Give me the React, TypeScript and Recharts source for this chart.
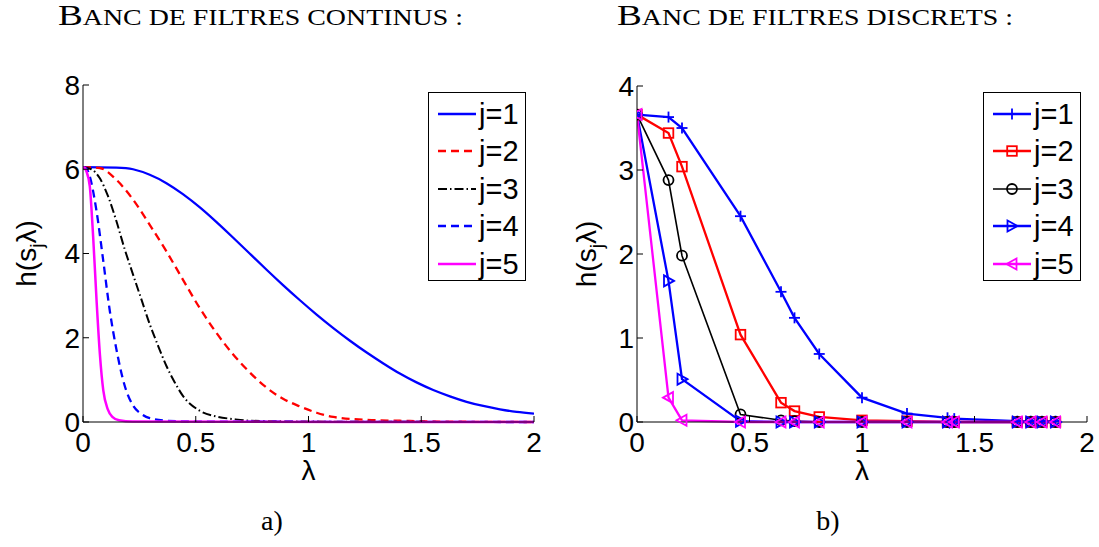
import React from 'react';
import { LineChart, Line, XAxis, YAxis } from 'recharts';

// axes
const X_TICKS = [0, 0.5, 1, 1.5, 2];
const Y_TICKS_CONT = [0, 2, 4, 6, 8];
const Y_TICKS_DISC = [0, 1, 2, 3, 4];

// a) continuous filters
const LAM_1 = [0, 0.148, 0.222, 0.296, 0.37, 0.443, 0.517, 0.591, 0.665, 0.739, 0.813, 0.887, 0.962, 1.036, 1.11, 1.184, 1.258, 1.332, 1.405, 1.479, 1.553, 1.627, 1.701, 1.775, 1.849, 1.923, 2.0];
const H_1 = [6.05, 6.04, 6.0, 5.87, 5.67, 5.41, 5.1, 4.75, 4.38, 4.0, 3.62, 3.25, 2.89, 2.55, 2.23, 1.93, 1.65, 1.39, 1.15, 0.94, 0.76, 0.61, 0.48, 0.38, 0.3, 0.24, 0.2];
const LAM_2 = [0, 0.074, 0.148, 0.222, 0.296, 0.37, 0.443, 0.517, 0.591, 0.665, 0.739, 0.813, 0.887, 0.962, 1.036, 1.11, 1.258, 1.405, 1.6, 2.0];
const H_2 = [6.05, 6.03, 5.75, 5.28, 4.68, 4.05, 3.38, 2.71, 2.12, 1.61, 1.18, 0.82, 0.55, 0.37, 0.22, 0.12, 0.05, 0.03, 0.01, 0];
const LAM_3 = [0, 0.037, 0.074, 0.111, 0.148, 0.185, 0.222, 0.259, 0.296, 0.333, 0.37, 0.407, 0.443, 0.517, 0.591, 0.665, 0.739, 1.0, 2.0];
const H_3 = [6.05, 6.0, 5.79, 5.36, 4.77, 4.1, 3.5, 2.91, 2.32, 1.81, 1.33, 0.94, 0.62, 0.27, 0.13, 0.07, 0.03, 0.01, 0];
const LAM_4 = [0, 0.015, 0.03, 0.059, 0.089, 0.118, 0.148, 0.185, 0.222, 0.259, 0.296, 0.37, 0.5, 2.0];
const H_4 = [6.05, 6.02, 5.83, 5.04, 3.86, 2.67, 1.73, 0.86, 0.39, 0.19, 0.09, 0.03, 0.01, 0];
const LAM_5 = [0, 0.008, 0.015, 0.03, 0.045, 0.06, 0.075, 0.09, 0.11, 0.13, 0.16, 0.22, 2.0];
const H_5 = [6.05, 6.03, 5.95, 5.6, 4.4, 2.9, 1.6, 0.75, 0.3, 0.12, 0.04, 0.01, 0];

// b) discrete filters, one value per eigenvalue
const LAM_DISC = [0, 0.14, 0.2, 0.46, 0.64, 0.7, 0.81, 1.0, 1.2, 1.38, 1.41, 1.69, 1.75, 1.8, 1.86];
const D_1 = [3.66, 3.63, 3.5, 2.45, 1.55, 1.24, 0.81, 0.29, 0.1, 0.05, 0.04, 0.01, 0.01, 0.01, 0.01];
const D_2 = [3.66, 3.44, 3.04, 1.04, 0.23, 0.13, 0.06, 0.02, 0.01, 0, 0, 0, 0, 0, 0];
const D_3 = [3.66, 2.88, 1.98, 0.09, 0.02, 0.01, 0, 0, 0, 0, 0, 0, 0, 0, 0];
const D_4 = [3.66, 1.68, 0.51, 0.01, 0, 0, 0, 0, 0, 0, 0, 0, 0, 0, 0];
const D_5 = [3.66, 0.29, 0.02, 0, 0, 0, 0, 0, 0, 0, 0, 0, 0, 0, 0];

const SANS = '"Liberation Sans", Arial, sans-serif';
const SERIF = '"Liberation Serif", "Times New Roman", serif';

const zip = (xs: number[], ys: number[]) => xs.map((x, i) => ({ x, v: ys[i] }));

const CONT = [
  { name: 'j=1', color: '#0000ff', dash: undefined, w: 2.3, curve: 'natural', data: zip(LAM_1, H_1) },
  { name: 'j=2', color: '#ff0000', dash: '8 5', w: 2.3, curve: 'monotone', data: zip(LAM_2, H_2) },
  { name: 'j=3', color: '#000000', dash: '9 3 1.5 3', w: 2, curve: 'monotone', data: zip(LAM_3, H_3) },
  { name: 'j=4', color: '#0000ff', dash: '8 5', w: 2.3, curve: 'monotone', data: zip(LAM_4, H_4) },
  { name: 'j=5', color: '#ff00ff', dash: undefined, w: 2.5, curve: 'monotone', data: zip(LAM_5, H_5) },
];

const DISC = [
  { name: 'j=1', color: '#0000ff', marker: 'plus', w: 2.3, data: zip(LAM_DISC, D_1) },
  { name: 'j=2', color: '#ff0000', marker: 'square', w: 2.3, data: zip(LAM_DISC, D_2) },
  { name: 'j=3', color: '#000000', marker: 'circle', w: 1.6, data: zip(LAM_DISC, D_3) },
  { name: 'j=4', color: '#0000ff', marker: 'right', w: 2.3, data: zip(LAM_DISC, D_4) },
  { name: 'j=5', color: '#ff00ff', marker: 'left', w: 2.3, data: zip(LAM_DISC, D_5) },
];

const Marker = ({ kind, cx, cy, color }: { kind: string; cx: number; cy: number; color: string }) => {
  const s = { stroke: color, strokeWidth: 1.8, fill: 'none' };
  if (kind === 'plus')
    return (
      <g {...s}>
        <line x1={cx - 5.5} y1={cy} x2={cx + 5.5} y2={cy} />
        <line x1={cx} y1={cy - 5.5} x2={cx} y2={cy + 5.5} />
      </g>
    );
  if (kind === 'square') return <rect x={cx - 4.8} y={cy - 4.8} width={9.6} height={9.6} {...s} />;
  if (kind === 'circle') return <circle cx={cx} cy={cy} r={5} {...s} />;
  if (kind === 'right')
    return <polygon points={`${cx + 5.5},${cy} ${cx - 4.5},${cy - 5.5} ${cx - 4.5},${cy + 5.5}`} {...s} />;
  return <polygon points={`${cx - 5.5},${cy} ${cx + 4.5},${cy - 5.5} ${cx + 4.5},${cy + 5.5}`} {...s} />;
};

const tickStyle = { fill: '#000', fontSize: 28, fontFamily: SANS };
const fmt = (v: number) => String(v);

const YLabel = (bx: number) => (props: any) => {
  const vb = props.viewBox;
  const cy = vb.y + vb.height / 2;
  return (
    <text x={bx} y={cy} transform={`rotate(-90 ${bx} ${cy})`} textAnchor="middle" fontFamily={SANS} fontSize={28} fill="#000">
      h(s<tspan dy={7} fontSize={19}>j</tspan><tspan dy={-7}>λ)</tspan>
    </text>
  );
};

const XLabel = (props: any) => {
  const vb = props.viewBox;
  return (
    <text x={vb.x + vb.width / 2} y={vb.y + 58} textAnchor="middle" fontFamily={SANS} fontSize={28} fill="#000">
      λ
    </text>
  );
};

const Frame = ({ yMax, yTicks, yLabelX, yWidth }: { yMax: number; yTicks: number[]; yLabelX: number; yWidth: number }) => [
  <XAxis key="xb" xAxisId="b" type="number" dataKey="x" domain={[0, 2]} ticks={X_TICKS} tickFormatter={fmt}
    allowDataOverflow height={125} stroke="#000" tickSize={-6} tickMargin={16} tick={tickStyle} label={XLabel} />,
  <XAxis key="xt" xAxisId="t" orientation="top" type="number" dataKey="x" domain={[0, 2]} ticks={X_TICKS}
    height={0} stroke="#000" tickSize={-6} tick={false} />,
  <YAxis key="yl" yAxisId="l" type="number" domain={[0, yMax]} ticks={yTicks} tickFormatter={fmt}
    width={yWidth} stroke="#000" tickSize={-6} tickMargin={9} tick={tickStyle} label={YLabel(yLabelX)} />,
  <YAxis key="yr" yAxisId="r" orientation="right" type="number" domain={[0, yMax]} ticks={yTicks}
    width={0} stroke="#000" tickSize={-6} tick={false} />,
];

const LegendBox = ({ left, items, discrete }: { left: number; items: any[]; discrete: boolean }) => (
  <div style={{ position: 'absolute', left, top: 92, width: 98, height: 189, border: '1.3px solid #000', background: '#fff', boxSizing: 'border-box' }}>
    {items.map((s, i) => (
      <div key={s.name} style={{ position: 'absolute', left: 0, top: 2 + i * 37.5, height: 37.5, width: 96, display: 'flex', alignItems: 'center' }}>
        <svg width={50} height={20} style={{ marginLeft: 6 }}>
          <line x1={3} y1={10} x2={41} y2={10} stroke={s.color} strokeWidth={s.w} strokeDasharray={s.dash} />
          {discrete && <Marker kind={s.marker} cx={22} cy={10} color={s.color} />}
        </svg>
        <span style={{ fontFamily: SANS, fontSize: 29, lineHeight: '30px', marginLeft: -6 }}>{s.name}</span>
      </div>
    ))}
  </div>
);

const Title = ({ x, y, w, first, rest }: { x: number; y: number; w: number; first: string; rest: string }) => (
  <text x={x} y={y} textLength={w} lengthAdjust="spacingAndGlyphs" fontFamily={SERIF} fill="#000">
    <tspan fontSize={30}>{first}</tspan>
    <tspan fontSize={22.5}>{rest}</tspan>
  </text>
);

export default function App() {
  return (
    <div style={{ position: 'absolute', left: 0, top: 0, width: 1099, height: 547, background: '#fff' }}>
      <svg width={1099} height={547} style={{ position: 'absolute', left: 0, top: 0 }}>
        <Title x={58} y={24.5} w={405} first="B" rest="ANC DE FILTRES CONTINUS :" />
        <Title x={617} y={24.5} w={396} first="B" rest="ANC DE FILTRES DISCRETS :" />
        <text x={272} y={530} textAnchor="middle" fontFamily={SERIF} fontSize={28}>a)</text>
        <text x={828} y={530} textAnchor="middle" fontFamily={SERIF} fontSize={28}>b)</text>
      </svg>

      <div style={{ position: 'absolute', left: 0, top: 0 }}>
        <LineChart width={550} height={547} margin={{ top: 85, right: 16, bottom: 0, left: 0 }}>
          {Frame({ yMax: 8, yTicks: Y_TICKS_CONT, yLabelX: 36, yWidth: 83 })}
          {CONT.map((s) => (
            <Line key={s.name} xAxisId="b" yAxisId="l" data={s.data} dataKey="v" type={s.curve as any} stroke={s.color}
              strokeWidth={s.w} strokeDasharray={s.dash} dot={false} isAnimationActive={false} />
          ))}
        </LineChart>
      </div>

      <div style={{ position: 'absolute', left: 550, top: 0 }}>
        <LineChart width={549} height={547} margin={{ top: 86, right: 12, bottom: 0, left: 0 }}>
          {Frame({ yMax: 4, yTicks: Y_TICKS_DISC, yLabelX: 46, yWidth: 87 })}
          {DISC.map((s) => (
            <Line key={s.name} xAxisId="b" yAxisId="l" data={s.data} dataKey="v" type="linear" stroke={s.color}
              strokeWidth={s.w} isAnimationActive={false}
              dot={(p: any) => <Marker key={`${s.name}-${p.index}`} kind={s.marker} cx={p.cx} cy={p.cy} color={s.color} />} />
          ))}
        </LineChart>
      </div>

      <LegendBox left={428} items={CONT} discrete={false} />
      <LegendBox left={983} items={DISC} discrete={true} />
    </div>
  );
}
